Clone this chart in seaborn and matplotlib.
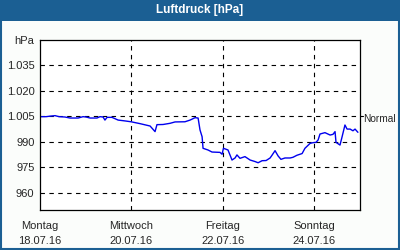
import pandas as pd
import numpy as np
import matplotlib
matplotlib.use('Agg')
import matplotlib.pyplot as plt
import matplotlib.dates as mdates
from matplotlib.patches import Rectangle
import seaborn as sns

# hours since Montag 18.07.16 00:00, pressure in hPa
hours = [0, 3.2, 5.3, 7.9, 10.0, 13.1, 15.8, 20.0, 22.6, 24.2, 26.3, 29.9, 31.5,
         33.1, 34.1, 35.2, 37.8, 41.0, 44.6, 47.8, 52.5, 57.8, 60.4, 61.4, 64.6,
         68.3, 70.9, 76.1, 78.8, 81.4, 83.0, 84.0, 85.1, 85.6, 88.2, 90.3, 94.5,
         95.6, 96.3, 98.7, 100.8, 102.4, 103.4, 105.0, 107.6, 110.3, 112.9, 114.5,
         116.6, 118.7, 120.8, 121.8, 123.4, 125.0, 126.5, 128.6, 131.3, 132.8,
         134.9, 137.6, 139.1, 141.8, 143.3, 144.9, 146.0, 147.0, 149.6, 152.3,
         153.8, 154.9, 155.4, 157.5, 158.6, 160.1, 161.2, 162.8, 164.3, 165.4, 166.9]
pressure = [1004.9, 1004.9, 1005.2, 1005.5, 1004.9, 1004.7, 1004.1, 1004.1, 1004.9,
            1004.7, 1004.1, 1004.1, 1004.9, 1004.7, 1002.9, 1004.5, 1004.5, 1002.9,
            1002.4, 1001.9, 1000.8, 999.4, 996.1, 1000.2, 1000.3, 1001.0, 1001.8,
            1001.9, 1002.9, 1004.3, 1004.1, 997.1, 993.1, 986.3, 985.3, 984.1,
            983.9, 982.8, 986.3, 985.3, 979.4, 980.6, 982.4, 980.4, 981.4, 979.4,
            978.5, 977.8, 979.0, 979.1, 980.6, 982.2, 984.9, 981.8, 979.8, 980.6,
            980.6, 981.0, 982.2, 983.2, 986.3, 989.2, 989.6, 989.8, 991.2, 994.7,
            995.5, 994.1, 994.5, 996.1, 989.8, 988.2, 993.1, 1000.0, 997.6, 997.6,
            996.6, 997.6, 995.7]

y_ticks = [960, 975, 990, 1005, 1020, 1035]
day_names = ['Montag', 'Mittwoch', 'Freitag', 'Sonntag']
day_dates = ['18.07.16', '20.07.16', '22.07.16', '24.07.16']
normal_value = 1005
title = 'Luftdruck [hPa]'

start = pd.Timestamp('2016-07-18')
blue_bar = '#1b5f93'


def fmt_hpa(v):
    if v >= 1000:
        return f'{v // 1000}.{v % 1000:03d}'
    return str(v)


def main():
    df = pd.DataFrame({'time': start + pd.to_timedelta(hours, unit='h'),
                       'pressure': pressure})

    sns.set_style('white')
    plt.rcParams['font.family'] = ['Liberation Sans', 'DejaVu Sans']

    f = plt.figure(figsize=(4, 2.5), dpi=100, facecolor='#fbfdfb')
    ax = f.add_axes([0.1, 0.16, 0.8, 0.68])
    ax.set_facecolor('white')

    sns.lineplot(data=df, x='time', y='pressure', color='#0000ee', lw=1.0, ax=ax)

    ax.set_xlim(start, start + pd.Timedelta(days=7))
    ax.set_ylim(950, 1050)

    # grid
    for v in y_ticks:
        ax.axhline(v, color='black', lw=0.8, ls=(0, (4, 4)), zorder=0)
    for d in [2, 4, 6]:
        ax.axvline(start + pd.Timedelta(days=d), color='black', lw=0.8,
                   ls=(0, (4, 4)), zorder=0)

    ax.set_yticks(y_ticks + [1050])
    ax.set_yticklabels([fmt_hpa(v) for v in y_ticks] + ['hPa'], fontsize=8)
    ax.tick_params(axis='y', length=0, pad=4)

    ax.xaxis.set_minor_locator(mdates.DayLocator())
    ax.set_xticks([start + pd.Timedelta(days=d) for d in [0, 2, 4, 6]])
    ax.set_xticklabels([f'{n}\n{d}' for n, d in zip(day_names, day_dates)],
                       fontsize=8, linespacing=1.55)
    ax.tick_params(axis='x', which='both', direction='inout', length=4,
                   width=0.8, pad=6)
    ax.set_xlabel('')
    ax.set_ylabel('')

    for s in ax.spines.values():
        s.set_visible(True)
        s.set_color('black')
        s.set_linewidth(0.9)

    # Normal marker on the right
    ax.plot([1.0, 1.01], [normal_value, normal_value], color='black', lw=0.8,
            transform=ax.get_yaxis_transform(), clip_on=False)
    ax.text(1.01, normal_value - 1.5, 'Normal', fontsize=7.3, ha='left', va='center',
            transform=ax.get_yaxis_transform())

    # header bar and frame
    f.patches.append(Rectangle((0, 1 - 21 / 250), 1, 21 / 250, transform=f.transFigure,
                               facecolor=blue_bar, edgecolor='none', zorder=0))
    f.patches.append(Rectangle((0.002, 0.003), 0.996, 0.99, transform=f.transFigure,
                               facecolor='none', edgecolor=blue_bar, lw=1.5, zorder=1))
    f.text(0.5, 1 - 10.5 / 250, title, color='white', fontsize=8.5, fontweight='bold',
           ha='center', va='center')

    f.savefig('out.png', dpi=100, facecolor=f.get_facecolor())


if __name__ == '__main__':
    main()
